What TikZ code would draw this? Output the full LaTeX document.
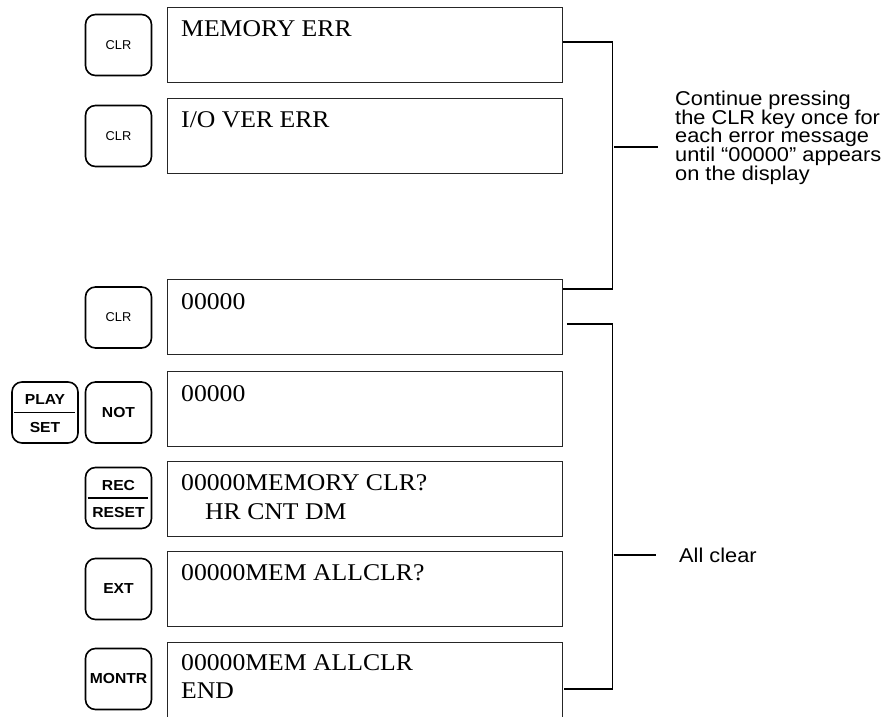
\documentclass[tikz,border=0pt]{standalone}
\usepackage{fontspec}
\usetikzlibrary{calc}
\newfontfamily\dispfont[FakeStretch=1.07]{Liberation Serif}
\newfontfamily\labfont[FakeStretch=1.09]{Liberation Sans}
\newfontfamily\keyfont{Liberation Sans}
\newfontfamily\bkeyfont[FakeStretch=1.08]{Liberation Sans Bold}
\newcommand\mynotefont{\labfont\fontsize{20pt}{18.6pt}\selectfont\setlength{\lineskiplimit}{-100pt}}
\begin{document}
\begin{tikzpicture}[x=1pt,y=-1pt,
  disp/.style={draw=black!85, line width=0.9pt, inner sep=0pt, minimum width=395pt, minimum height=75pt, anchor=north west},
  dtext/.style={inner sep=0pt, anchor=base west, font=\dispfont\fontsize{24pt}{28pt}\selectfont},
  keybox/.style={draw, line width=1.6pt, rounded corners=10pt, minimum width=66pt, minimum height=61pt, inner sep=0pt, font=\keyfont\fontsize{12.8pt}{14pt}\selectfont},
  boldkey/.style={keybox, font=\bkeyfont\fontsize{14.5pt}{16pt}\selectfont},
  keytext/.style={inner sep=0pt, font=\bkeyfont\fontsize{14.5pt}{16pt}\selectfont},
  fracline/.style={line width=1.4pt},
  br/.style={line width=1.1pt},
  note/.style={inner sep=0pt, font=\mynotefont, align=left}
]
\useasboundingbox (0,0) rectangle (887,717);

% display boxes
\node[disp] (d1) at (167,7) {};
\node[disp] (d2) at (167,98) {};
\node[disp] (d3) at (167,279) {};
\node[disp] (d4) at (167,371) {};
\node[disp] (d5) at (167,461) {};
\node[disp] (d6) at (167,551) {};
\node[disp, minimum height=75.3pt] (d7) at (167,641.5) {};

% display texts
\node[dtext] (t1) at ($(d1.north west)+(14,30)$) {MEMORY ERR};
\node[dtext] (t2) at ($(d2.north west)+(14,30)$) {I/O VER ERR};
\node[dtext] (t3) at ($(d3.north west)+(14,30)$) {00000};
\node[dtext] (t4) at ($(d4.north west)+(14,30)$) {00000};
\node[dtext] (t5a) at ($(d5.north west)+(14,29)$) {00000MEMORY CLR?};
\node[dtext] (t5b) at ($(d5.north west)+(38,58)$) {HR CNT DM};
\node[dtext] (t6) at ($(d6.north west)+(14,29)$) {00000MEM ALLCLR?};
\node[dtext] (t7a) at ($(d7.north west)+(14,28.5)$) {00000MEM ALLCLR};
\node[dtext] (t7b) at ($(d7.north west)+(14,56.5)$) {END};

% keys
\node[keybox] (k1) at (118.5,45) {CLR};
\node[keybox] (k2) at (118.5,136) {CLR};
\node[keybox] (k3) at (118.5,317.5) {CLR};
\node[boldkey] (k4) at (118.5,412.5) {NOT};
\node[keybox] (k5) at (45,412.5) {};
\node[keytext] (k5a) at (45,400) {PLAY};
\node[keytext] (k5b) at (45,427.5) {SET};
\draw[fracline] ($(k5.west)+(3,0)$) -- ($(k5.east)+(-4,0)$);
\node[keybox] (k6) at (118.5,498) {};
\node[keytext] (k6a) at (118.5,485.5) {REC};
\node[keytext] (k6b) at (118.5,513) {RESET};
\draw[fracline] ($(k6.west)+(3,0)$) -- ($(k6.east)+(-4,0)$);
\node[boldkey] (k7) at (118.5,589) {EXT};
\node[boldkey] (k8) at (118.5,679) {MONTR};

% bracket 1
\coordinate (b1t) at ($(d1.north east)+(50,35)$);
\coordinate (b1b) at ($(d3.north east)+(50,10)$);
\draw[br] ($(d1.north east)+(0,35)$) -- (b1t) -- (b1b) -- ($(d3.north east)+(0,10)$);
\coordinate (b1m) at (614,147);
\coordinate (n1) at (658,147);
\draw[br] (b1m) -- (n1);
\node[note, anchor=north west] (c1) at (675,91) {Continue pressing\\the CLR key once for\\each error message\\until “00000” appears\\on the display};

% bracket 2
\coordinate (b2t) at ($(d3.north east)+(50,45)$);
\coordinate (b2b) at ($(d7.north east)+(50,47.5)$);
\draw[br] ($(d3.north east)+(4,45)$) -- (b2t) -- (b2b) -- ($(d7.north east)+(1,47.5)$);
\coordinate (b2m) at (613.5,555);
\coordinate (n2) at (656,555);
\draw[br] (b2m) -- (n2);
\node[note, anchor=base west] (c2) at (679,562.5) {All clear};
\end{tikzpicture}
\end{document}
